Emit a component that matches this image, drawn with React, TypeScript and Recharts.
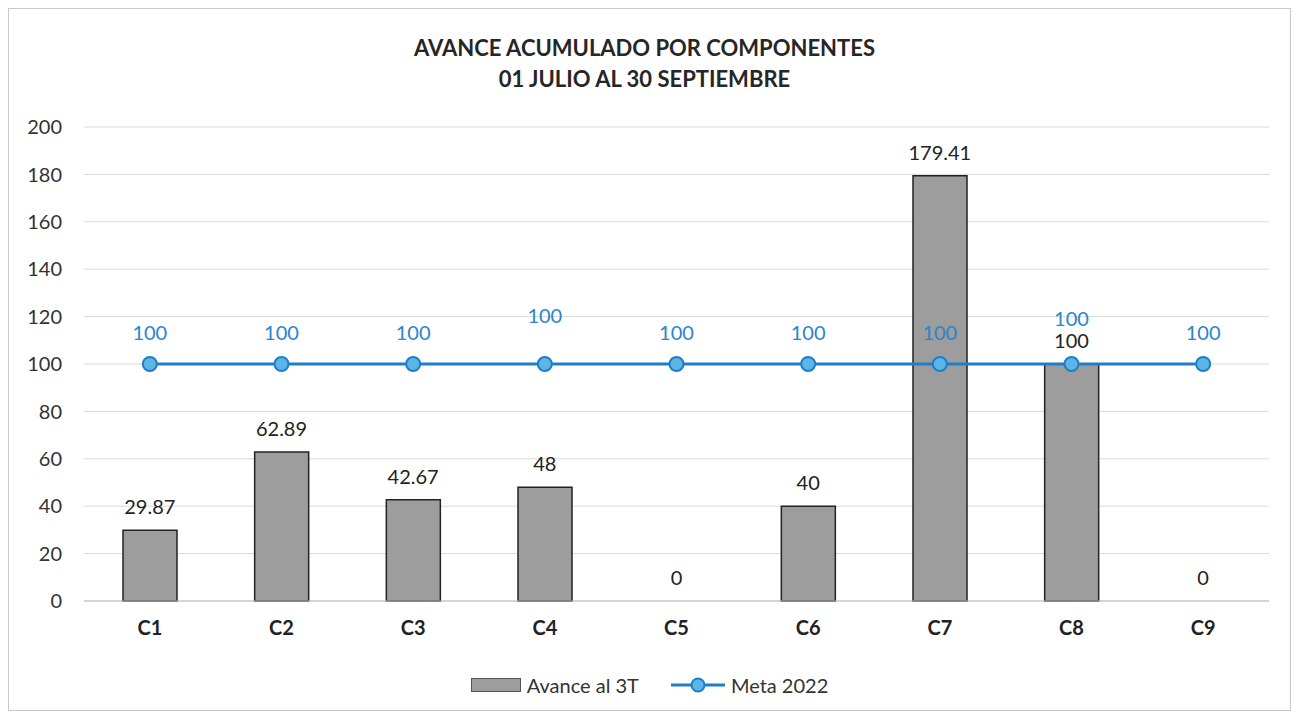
import React from "react";
import { ComposedChart, Bar, Line, XAxis, YAxis, CartesianGrid, LabelList, Legend } from "recharts";

const categories = ["C1", "C2", "C3", "C4", "C5", "C6", "C7", "C8", "C9"];
const avance = [29.87, 62.89, 42.67, 48, 0, 40, 179.41, 100, 0];
const meta = [100, 100, 100, 100, 100, 100, 100, 100, 100];
const yTicks = [0, 20, 40, 60, 80, 100, 120, 140, 160, 180, 200];
const title1 = "AVANCE ACUMULADO POR COMPONENTES";
const title2 = "01 JULIO AL 30 SEPTIEMBRE";
const barName = "Avance al 3T";
const lineName = "Meta 2022";

const data = categories.map((c, i) => ({ cat: c, avance: avance[i], meta: meta[i] }));

const FONT = "Lato, 'Open Sans', sans-serif";
const BAR_FILL = "#9d9d9d";
const BAR_STROKE = "#222222";
const LINE = "#1f7fc6";
const DOT = "#5db4e6";
const LABEL_BLUE = "#2a85cf";

// extra upward shift (px) for manually nudged Meta labels in the original
const metaLabelNudge: Record<number, number> = { 3: 17, 7: 14 };

const MetaLabel = (props: any) => {
  const { x, y, value, index } = props;
  const extra = metaLabelNudge[index] || 0;
  return (
    <text x={x} y={y - 24 - extra} textAnchor="middle" fontSize={20} fill={LABEL_BLUE} fontFamily={FONT}>
      {value}
    </text>
  );
};

const AvanceLabel = (props: any) => {
  const { x, y, value } = props;
  return (
    <text x={x} y={y - 16} textAnchor="middle" fontSize={20} fill="#222" fontFamily={FONT}>
      {value}
    </text>
  );
};

const LegendContent = () => (
  <div style={{ display: "flex", justifyContent: "center", alignItems: "center", fontFamily: FONT, fontSize: 20, color: "#333" }}>
    <svg width={50} height={14} style={{ marginRight: 6 }}>
      <rect x={0.5} y={0.5} width={49} height={13} fill={BAR_FILL} stroke="#555" />
    </svg>
    <span style={{ marginRight: 32 }}>{barName}</span>
    <svg width={54} height={16} style={{ marginRight: 6 }}>
      <line x1={0} y1={8} x2={54} y2={8} stroke={LINE} strokeWidth={3} />
      <circle cx={27} cy={8} r={6.5} fill={DOT} stroke={LINE} strokeWidth={2} />
    </svg>
    <span>{lineName}</span>
  </div>
);

export default function App() {
  return (
    <div style={{ position: "relative", width: 1283, height: 703, fontFamily: FONT }}>
      <div style={{ position: "absolute", left: 0, top: 0, width: 1281, height: 701, border: "1px solid #c8c8c8" }} />
      <div style={{ position: "absolute", left: 0, top: 24, width: 1273, textAlign: "center", fontWeight: 700, fontSize: 22, lineHeight: "31px", color: "#262626" }}>
        <div>{title1}</div>
        <div>{title2}</div>
      </div>
      <div style={{ position: "absolute", left: 0, top: 0 }}>
        <ComposedChart width={1283} height={703} data={data} margin={{ top: 119, right: 22, bottom: 36, left: 0 }} barSize={54}>
          <CartesianGrid vertical={false} stroke="#d9d9d9" />
          <XAxis dataKey="cat" tickLine={false} axisLine={{ stroke: "#bfbfbf" }} tickSize={0} tickMargin={20} height={50}
            tick={{ fontSize: 20, fontWeight: 700, fill: "#222", fontFamily: FONT }} />
          <YAxis domain={[0, 200]} ticks={yTicks} interval={0} axisLine={false} tickLine={false} tickSize={0} tickMargin={22} width={76}
            tick={{ fontSize: 20, fill: "#333", fontFamily: FONT }} />
          <Legend content={<LegendContent />} wrapperStyle={{ top: 665, left: 0, width: 1283 }} />
          <Bar dataKey="avance" name={barName} fill={BAR_FILL} stroke={BAR_STROKE} strokeWidth={1.5} isAnimationActive={false} />
          <Line dataKey="avance" legendType="none" stroke="none" dot={false} activeDot={false} isAnimationActive={false}>
            <LabelList dataKey="avance" content={<AvanceLabel />} />
          </Line>
          <Line dataKey="meta" name={lineName} stroke={LINE} strokeWidth={3} isAnimationActive={false}
            dot={{ r: 7, fill: DOT, stroke: LINE, strokeWidth: 2 }}>
            <LabelList dataKey="meta" content={<MetaLabel />} />
          </Line>
        </ComposedChart>
      </div>
    </div>
  );
}
